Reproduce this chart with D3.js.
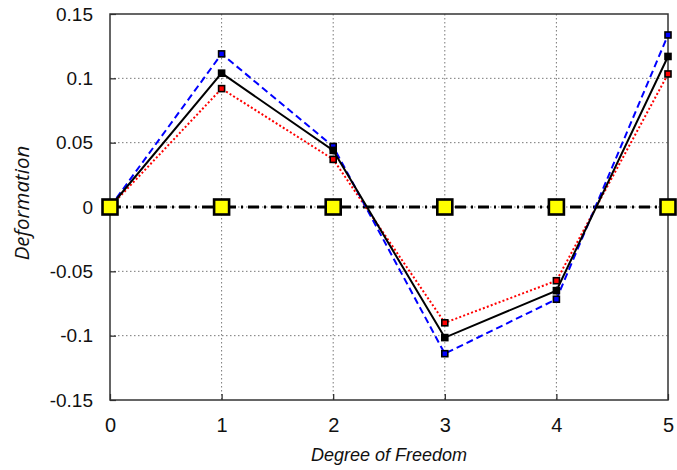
<!DOCTYPE html>
<html><head><meta charset="utf-8">
<script src="https://cdn.jsdelivr.net/npm/d3@7"></script>
<style>body{margin:0;background:#fff}svg{display:block}</style>
</head><body>
<svg id="c" width="677" height="470"></svg>
<script>
const dof = [0, 1, 2, 3, 4, 5];
const blackSeries = [0, 0.104, 0.044, -0.1015, -0.065, 0.117];
const blueSeries = [0, 0.119, 0.047, -0.114, -0.0717, 0.1337];
const redSeries = [0, 0.092, 0.037, -0.090, -0.0573, 0.1034];
const zeroSeries = [0, 0, 0, 0, 0, 0];
const yTicks = [-0.15, -0.1, -0.05, 0, 0.05, 0.1, 0.15];
const yTickLabels = ["-0.15", "-0.1", "-0.05", "0", "0.05", "0.1", "0.15"];
const xTicks = [0, 1, 2, 3, 4, 5];

const svg = d3.select("#c");
const L = 110, R = 668, T = 14, B = 400;
const x = d3.scaleLinear().domain([0, 5]).range([L, R]);
const y = d3.scaleLinear().domain([-0.15, 0.15]).range([B, T]);

// grid
const g = svg.append("g");
g.selectAll(".gx").data(xTicks.slice(1, -1)).join("line")
  .attr("x1", d => x(d)).attr("x2", d => x(d)).attr("y1", T).attr("y2", B)
  .attr("stroke", "#555").attr("stroke-width", 0.8).attr("stroke-dasharray", "1.5,2.5");
g.selectAll(".gy").data(yTicks.slice(1, -1)).join("line")
  .attr("y1", d => y(d)).attr("y2", d => y(d)).attr("x1", L).attr("x2", R)
  .attr("stroke", "#555").attr("stroke-width", 0.8).attr("stroke-dasharray", "1.5,2.5");

// axes
const xAxis = d3.axisBottom(x).tickValues(xTicks).tickSize(-6).tickPadding(18).tickFormat(d3.format("d"));
const yAxis = d3.axisLeft(y).tickValues(yTicks).tickSize(-6).tickPadding(17)
  .tickFormat((d, i) => yTickLabels[i]);
const ax = svg.append("g").attr("transform", `translate(0,${B})`).call(xAxis);
const ay = svg.append("g").attr("transform", `translate(${L},0)`).call(yAxis);
[ax, ay].forEach(a => {
  a.select(".domain").remove();
  a.selectAll("line").attr("stroke", "#222").attr("stroke-width", 1.2);
  a.selectAll("text").attr("font-family", "Liberation Sans, Arial, sans-serif")
    .attr("fill", "#111");
});
ax.selectAll("text").attr("font-size", 20);
ay.selectAll("text").attr("font-size", 19);

// frame
svg.append("rect").attr("x", L).attr("y", T).attr("width", R - L).attr("height", B - T)
  .attr("fill", "none").attr("stroke", "#333").attr("stroke-width", 1.5);

// zero line (dash-dot)
const line = d3.line().x((d, i) => x(dof[i])).y(d => y(d));
svg.append("path").datum(zeroSeries).attr("d", line).attr("fill", "none")
  .attr("stroke", "#000").attr("stroke-width", 3.2).attr("stroke-dasharray", "11,5,2,5");

// series
const series = [
  { data: redSeries, color: "#ff0000", dash: "2,2.2", w: 2 },
  { data: blueSeries, color: "#0000ff", dash: "7,4", w: 2 },
  { data: blackSeries, color: "#000000", dash: null, w: 2 }
];
series.forEach(s => {
  svg.append("path").datum(s.data).attr("d", line).attr("fill", "none")
    .attr("stroke", s.color).attr("stroke-width", s.w)
    .attr("stroke-dasharray", s.dash);
});
series.forEach(s => {
  svg.append("g").selectAll("rect").data(s.data).join("rect")
    .attr("x", (d, i) => x(dof[i]) - 3).attr("y", d => y(d) - 3)
    .attr("width", 6).attr("height", 6)
    .attr("fill", s.color).attr("stroke", "#000").attr("stroke-width", 1.6);
});

// yellow markers
svg.append("g").selectAll("rect").data(zeroSeries).join("rect")
  .attr("x", (d, i) => x(dof[i]) - 7.5).attr("y", d => y(d) - 7.5)
  .attr("width", 15).attr("height", 15)
  .attr("fill", "#ffff00").attr("stroke", "#000").attr("stroke-width", 2.6);

// axis titles
svg.append("text").attr("x", (L + R) / 2).attr("y", 461).attr("text-anchor", "middle")
  .attr("font-family", "Liberation Sans, Arial, sans-serif").attr("font-style", "italic")
  .attr("font-size", 18).attr("fill", "#111").text("Degree of Freedom");
svg.append("text").attr("transform", `translate(29,203) rotate(-90)`)
  .attr("text-anchor", "middle")
  .attr("font-family", "Open Sans, sans-serif").attr("font-style", "italic")
  .attr("font-size", 20.5).attr("fill", "#111").text("Deformation");
</script>
</body></html>
